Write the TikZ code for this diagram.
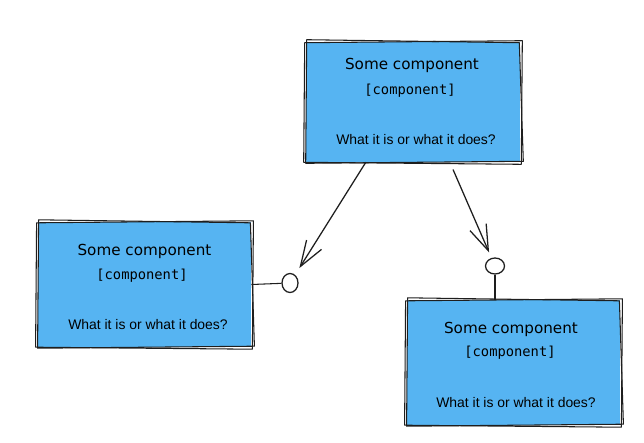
\documentclass[tikz,border=0pt]{standalone}
\usepackage{fontspec}
\setmainfont{Liberation Sans}
\setmonofont{DejaVu Sans Mono}
\newfontfamily\titlefont{DejaVu Sans}
\usepackage{tikz}
\usetikzlibrary{arrows.meta}
\usetikzlibrary{shapes.geometric}
\usetikzlibrary{positioning}
\definecolor{compblue}{RGB}{86,180,242}
\definecolor{inkgray}{RGB}{30,30,30}

\begin{document}
\begin{tikzpicture}[x=0.025cm, y=-0.025cm,
    comp/.style={fill=compblue, minimum width=5.33cm, minimum height=3.12cm, inner sep=0pt},
    ctitle/.style={font=\titlefont\fontsize{10.8}{13}\selectfont, inner sep=0pt},
    ctype/.style={font=\ttfamily\fontsize{9.8}{12}\selectfont, inner sep=0pt},
    cdesc/.style={font=\fontsize{9.9}{12}\selectfont, inner sep=0pt},
    sketch/.style={draw=inkgray, line width=0.75pt, line join=round},
    ball/.style={ellipse, draw=inkgray, line width=0.9pt, inner sep=0pt},
    link/.style={-{Straight Barb[length=0.64cm, width=0.44cm]}, draw=inkgray, line width=0.9pt}]
    \useasboundingbox (0,0) rectangle (644,442);
    \node[comp, minimum width=5.35cm, minimum height=3cm] (cT) at (413,102) {};
    \node[comp] (cL) at (144.5,284.5) {};
    \node[comp] (cR) at (513.5,362.5) {};
    % hand drawn outlines
    \foreach \c in {cT,cL,cR} {
      \draw[sketch] ([shift={(-1,1)}]\c.north west) -- ([shift={(2,-1)}]\c.north east)
        -- ([shift={(1,2)}]\c.south east) -- ([shift={(-2,0)}]\c.south west) -- cycle;
      \draw[sketch] ([shift={(1,-2)}]\c.north west) -- ([shift={(-1,1)}]\c.north east)
        -- ([shift={(3,-1)}]\c.south east) -- ([shift={(0,1)}]\c.south west) -- cycle;
    }
    \node[ctitle] (tT) at (412,65) {Some component};
    \node[ctype] (sT) at (410,91) {[component]};
    \node[cdesc] (dT) at (416,140) {What it is or what it does?};
    \node[ctitle] (tL) at (144.5,251) {Some component};
    \node[ctype] (sL) at (142,276) {[component]};
    \node[cdesc] (dL) at (148,325) {What it is or what it does?};
    \node[ctitle] (tR) at (511,329) {Some component};
    \node[ctype] (sR) at (510,353) {[component]};
    \node[cdesc] (dR) at (516,403) {What it is or what it does?};
    \node[ball, minimum width=0.4cm, minimum height=0.475cm] (bL) at (290,283) {};
    \node[ball, minimum width=0.475cm, minimum height=0.4cm] (bR) at (495,266) {};
    \draw[sketch] (cL.east) -- (bL);
    \draw[sketch] (bR) -- (bR |- cR.north);
    \draw[link, shorten >=0.2cm] ([xshift=-1.18cm]cT.south) -- (bL);
    \draw[link, shorten >=0.15cm] ([xshift=1cm, yshift=-0.18cm]cT.south) -- (bR);
\end{tikzpicture}
\end{document}
